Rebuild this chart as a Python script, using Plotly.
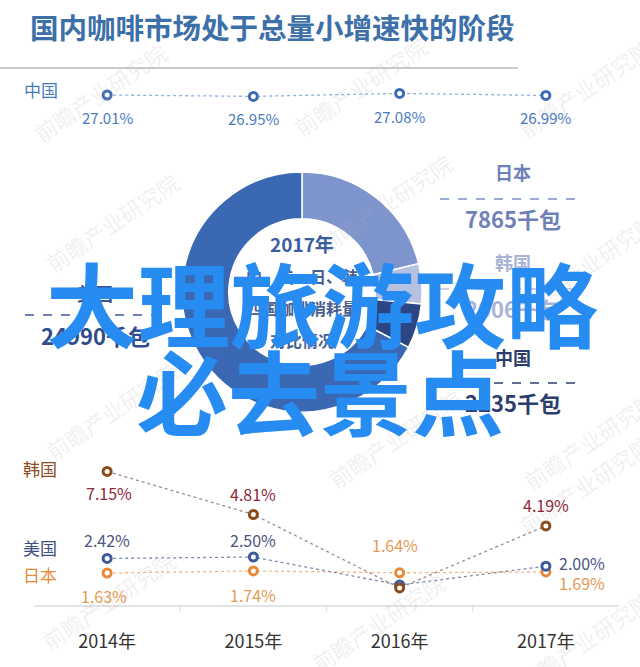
import plotly.graph_objects as go

# ---------------- data ----------------
YEARS = ["2014年", "2015年", "2016年", "2017年"]
CHINA_GROWTH = [27.01, 26.95, 27.08, 26.99]
KOREA_GROWTH = [7.15, 4.81, 0.82, 4.19]
US_GROWTH = [2.42, 2.50, 0.98, 2.00]
JAPAN_GROWTH = [1.63, 1.74, 1.64, 1.69]

DONUT_LABELS = ["日本", "韩国", "中国", "美国"]
DONUT_VALUES = [7865, 2006, 2235, 24990]
DONUT_UNIT = "千包"

TITLE = "国内咖啡市场处于总量小增速快的阶段"
CENTER_LINES = ["2017年", "中、美、日、韩", "四国咖啡消耗量", "对比情况"]
OVERLAY_LINES = ["大理旅游攻略", "必去景点"]
WATERMARK = "前瞻产业研究院"

# ---------------- helpers ----------------
W, H = 640, 667
FONT = "Noto Sans CJK SC"


def px(x):
    return x / W


def py(y):
    return 1 - y / H


def note(x, y, text, size, color, xanchor="center", angle=0):
    return dict(x=px(x), y=py(y), xref="paper", yref="paper", text=text,
                showarrow=False, xanchor=xanchor, yanchor="middle",
                textangle=angle, font=dict(family=FONT, size=size, color=color))


fig = go.Figure()

# ---------------- donut ----------------
DONUT_COLORS = ["#7d94cd", "#b6c1e1", "#2c4683", "#3b68b3"]
fig.add_trace(go.Pie(
    labels=DONUT_LABELS, values=DONUT_VALUES,
    hole=0.61, sort=False, direction="clockwise", rotation=0,
    marker=dict(colors=DONUT_COLORS, line=dict(color="white", width=1.5)),
    textinfo="none", hoverinfo="skip",
    domain=dict(x=[px(182), px(422)], y=[py(412), py(172)]),
    showlegend=False,
))

# ---------------- line series ----------------
xs = list(range(len(YEARS)))
SERIES = [
    (CHINA_GROWTH, "y2", "#3d6db5", "#8fb0dc"),
    (JAPAN_GROWTH, "y", "#e8883a", "#efb684"),
    (US_GROWTH, "y", "#3d5a9a", "#7d8ab0"),
    (KOREA_GROWTH, "y", "#8a4a1a", "#a08c84"),
]
for vals, ax, mc, lc in SERIES:
    fig.add_trace(go.Scatter(
        x=xs, y=vals, yaxis=ax, mode="lines+markers",
        line=dict(color=lc, width=1.3, dash="dot"),
        marker=dict(symbol="circle", size=8, color="white",
                    line=dict(color=mc, width=3)),
        hoverinfo="skip", showlegend=False,
    ))

annotations = []
shapes = []

# watermarks (faint, rotated)
WM_POS = [(100, 92), (360, 86), (585, 88), (112, 222), (385, 203), (590, 262),
          (112, 410), (395, 438), (590, 440), (108, 600), (378, 622),
          (585, 484), (585, 640)]
for (wx, wy) in WM_POS:
    annotations.append(note(wx, wy, WATERMARK, 22, "rgba(175,175,175,0.2)",
                            angle=-34))

# label placements (dx, dy in px; None = no label)
PLACE = {
    "china": [(0, 22), (0, 22), (0, 23), (0, 22)],
    "korea": [(2, 22), (0, -21), None, (0, -21)],
    "us": [(0, -18), (0, -17), None, (36, -3)],
    "japan": [(-3, 23), (0, 24), (-5, -28), (36, 11)],
}
LABEL_STYLE = [
    ("china", CHINA_GROWTH, "y2", "#4a7bbd", 15),
    ("korea", KOREA_GROWTH, "y", "#8e2a3a", 16),
    ("us", US_GROWTH, "y", "#4a5580", 16),
    ("japan", JAPAN_GROWTH, "y", "#e39a55", 16),
]
for key, vals, ax, col, sz in LABEL_STYLE:
    for i, v in enumerate(vals):
        p = PLACE[key][i]
        if p is None:
            continue
        annotations.append(dict(
            x=xs[i], y=v, xref="x", yref=ax, text=f"{v:.2f}%",
            showarrow=False, xanchor="center", yanchor="middle",
            xshift=p[0], yshift=-p[1],
            font=dict(family=FONT, size=sz, color=col)))

# row labels
ROW_LABELS = [("中国", 41, 89, "#4a7bbd"), ("韩国", 40, 468, "#8b4a1f"),
              ("美国", 40, 547, "#3d4f80"), ("日本", 40, 574, "#e8883a")]
for t, rx, ry, c in ROW_LABELS:
    annotations.append(note(rx, ry, t, 17, c))

# title + rule
annotations.append(note(28, 26, f"<b>{TITLE}</b>", 28.5, "#3d6fa8",
                        xanchor="left"))
shapes.append(dict(type="line", xref="paper", yref="paper",
                   x0=0, x1=px(518), y0=py(68), y1=py(68),
                   line=dict(color="#b8b8b8", width=1.5)))

# donut side labels
DONUT_LABEL_POS = {
    "美国": dict(cx=95, name_y=293, dash=(25, 160, 315), val_y=335,
               ncol="#3c5391", vcol="#2f4d8a", dcol="#3f5a95"),
    "日本": dict(cx=513, name_y=172, dash=(440, 583, 199), val_y=218,
               ncol="#6e80b8", vcol="#6f80b8", dcol="#7d8fc5"),
    "韩国": dict(cx=513, name_y=262, dash=(440, 583, 289), val_y=308,
               ncol="#a9b3d6", vcol="#aab4d8", dcol="#b8c1e0"),
    "中国": dict(cx=513, name_y=357, dash=(440, 583, 383), val_y=402,
               ncol="#2d3e6e", vcol="#2d3e6e", dcol="#2c3f70"),
}
for lab, val in zip(DONUT_LABELS, DONUT_VALUES):
    d = DONUT_LABEL_POS[lab]
    annotations.append(note(d["cx"], d["name_y"], f"<b>{lab}</b>", 18,
                            d["ncol"]))
    annotations.append(note(d["cx"], d["val_y"], f"<b>{val}{DONUT_UNIT}</b>",
                            22, d["vcol"]))
    x0, x1, yy = d["dash"]
    shapes.append(dict(type="line", xref="paper", yref="paper",
                       x0=px(x0), x1=px(x1), y0=py(yy), y1=py(yy),
                       line=dict(color=d["dcol"], width=1.5, dash="dash")))

# donut centre text
CENTER_Y = [243, 276, 308, 340]
for i, (t, cy) in enumerate(zip(CENTER_LINES, CENTER_Y)):
    annotations.append(note(302, cy, f"<b>{t}</b>", 19 if i == 0 else 16,
                            "#3d5e9e" if i == 0 else "#4a5f8f"))

# category separator ticks
for i in range(len(YEARS) - 1):
    shapes.append(dict(type="line", xref="x", yref="paper",
                       x0=i + 0.5, x1=i + 0.5, y0=py(605), y1=py(612),
                       line=dict(color="#e0e0e0", width=1.2)))

# big overlay text
for t, (ox, oy) in zip(OVERLAY_LINES, [(322, 300), (320, 388)]):
    annotations.append(note(ox, oy, f"<b>{t}</b>", 92, "#278cf2"))

# ---------------- layout ----------------
fig.update_layout(
    width=W, height=H, margin=dict(l=0, r=0, t=0, b=0),
    paper_bgcolor="white", plot_bgcolor="rgba(0,0,0,0)",
    showlegend=False,
    xaxis=dict(domain=[px(34), px(619)], range=[-0.5, 3.5],
               tickvals=xs, ticktext=YEARS, showline=True,
               linecolor="#e3e3e3", linewidth=1.5, showgrid=False,
               zeroline=False, ticks="", ticklabelstandoff=20,
               tickfont=dict(family=FONT, size=18, color="#333333"),
               fixedrange=True),
    yaxis=dict(domain=[py(605), py(450)],
               range=[(603 - 605) / 18.4, (603 - 450) / 18.4],
               visible=False, fixedrange=True),
    yaxis2=dict(domain=[py(110), py(80)], range=[26.358, 27.662],
                visible=False, anchor="x", fixedrange=True),
    annotations=annotations, shapes=shapes,
)

fig.write_html("out.html",
               config={"displayModeBar": False},
               post_script="document.body.style.margin='0';"
                           "document.body.style.overflow='hidden';")
